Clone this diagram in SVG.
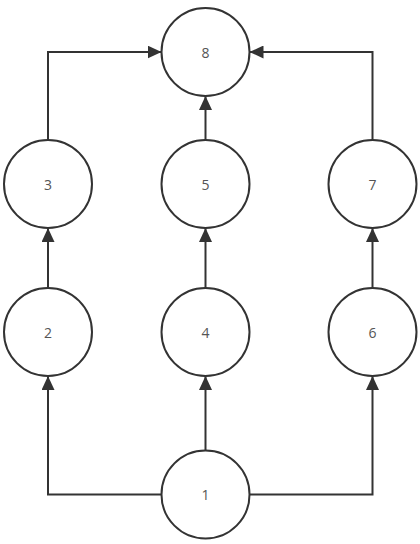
<svg xmlns="http://www.w3.org/2000/svg" width="420" height="544" viewBox="0 0 420 544">
<style>
.n circle{fill:#fff;stroke:#333;stroke-width:2}
.n text{font-family:"Open Sans","Liberation Sans",sans-serif;font-size:14px;fill:#555;text-anchor:middle;dominant-baseline:central}
.e path{fill:none;stroke:#333;stroke-width:2}
</style>
<defs>
<marker id="a" markerUnits="userSpaceOnUse" viewBox="0 0 14 13" refX="14" refY="6.5" markerWidth="14" markerHeight="13" orient="auto">
<path d="M0,0 L14,6.5 L0,13 Z" fill="#333"/>
</marker>
</defs>
<rect width="420" height="544" fill="#fff"/>
<g class="e">
<path d="M48,140 V52 H161.5" marker-end="url(#a)"/>
<path d="M372.5,140 V52 H249.5" marker-end="url(#a)"/>
<path d="M205.5,140 V96" marker-end="url(#a)"/>
<path d="M48,288 V228" marker-end="url(#a)"/>
<path d="M205.5,288 V228" marker-end="url(#a)"/>
<path d="M372.5,288 V228" marker-end="url(#a)"/>
<path d="M161.5,494.5 H48 V376" marker-end="url(#a)"/>
<path d="M205.5,450.5 V376" marker-end="url(#a)"/>
<path d="M249.5,494.5 H372.5 V376" marker-end="url(#a)"/>
</g>
<g id="n8" class="n"><circle cx="205.5" cy="52" r="44"/><text x="205.5" y="52">8</text></g>
<g id="n3" class="n"><circle cx="48" cy="184" r="44"/><text x="48" y="184">3</text></g>
<g id="n5" class="n"><circle cx="205.5" cy="184" r="44"/><text x="205.5" y="184">5</text></g>
<g id="n7" class="n"><circle cx="372.5" cy="184" r="44"/><text x="372.5" y="184">7</text></g>
<g id="n2" class="n"><circle cx="48" cy="332" r="44"/><text x="48" y="332">2</text></g>
<g id="n4" class="n"><circle cx="205.5" cy="332" r="44"/><text x="205.5" y="332">4</text></g>
<g id="n6" class="n"><circle cx="372.5" cy="332" r="44"/><text x="372.5" y="332">6</text></g>
<g id="n1" class="n"><circle cx="205.5" cy="494.5" r="44"/><text x="205.5" y="494.5">1</text></g>
</svg>
